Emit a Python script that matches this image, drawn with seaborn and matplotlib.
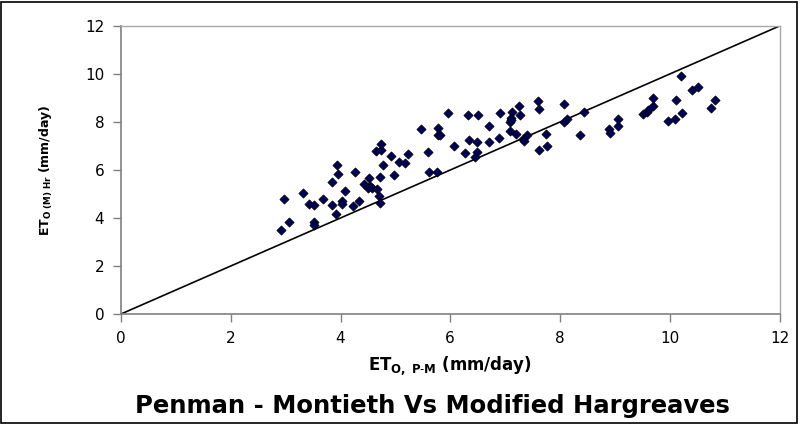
import matplotlib
matplotlib.use("Agg")
import matplotlib.pyplot as plt
import seaborn as sns
import numpy as np
import pandas as pd
from matplotlib.patches import Rectangle

# ---- data ----
et_pm = [2.92, 3.06, 2.97, 3.32, 3.43, 3.52, 3.52, 3.52, 3.68, 3.85, 3.92, 4.03, 4.03, 4.23,
         4.34, 4.09, 3.85, 3.94, 3.96, 4.27, 4.52, 4.72, 4.43, 4.54, 4.58, 4.67, 4.51, 4.71,
         4.72, 4.78, 4.65, 4.74, 4.74, 4.92, 5.07, 5.18, 5.23, 4.98, 5.60, 5.62, 5.75, 6.27,
         5.47, 5.78, 5.78, 5.82, 5.95, 6.33, 6.51, 6.91, 6.71, 6.06, 6.35, 6.49, 6.71, 6.88,
         6.49, 6.46, 7.13, 7.28, 7.26, 7.59, 7.61, 8.08, 7.10, 7.08, 7.11, 7.08, 7.20, 7.39,
         7.33, 7.35, 7.75, 7.77, 7.62, 8.08, 8.12, 8.44, 8.37, 8.90, 8.92, 9.05, 9.05, 9.52,
         9.58, 9.61, 9.69, 9.69, 10.12, 10.21, 10.40, 10.52, 10.82, 10.76, 10.23, 9.96, 10.10]
et_hr = [3.50, 3.83, 4.79, 5.04, 4.58, 4.54, 3.83, 3.71, 4.79, 4.54, 4.17, 4.71, 4.58, 4.50,
         4.71, 5.13, 5.50, 6.21, 5.83, 5.92, 5.67, 5.71, 5.42, 5.33, 5.25, 5.21, 5.25, 4.92,
         4.63, 6.21, 6.79, 6.83, 7.08, 6.58, 6.33, 6.29, 6.67, 5.79, 6.75, 5.92, 5.92, 6.71,
         7.71, 7.75, 7.46, 7.46, 8.38, 8.29, 8.29, 8.38, 7.83, 7.00, 7.25, 7.17, 7.17, 7.33,
         6.75, 6.54, 8.42, 8.29, 8.67, 8.88, 8.54, 8.75, 8.17, 8.00, 8.08, 7.63, 7.50, 7.46,
         7.29, 7.21, 7.50, 7.00, 6.83, 8.00, 8.13, 8.42, 7.46, 7.71, 7.54, 8.13, 7.83, 8.33,
         8.42, 8.50, 8.67, 9.00, 8.92, 9.92, 9.33, 9.46, 8.92, 8.58, 8.38, 8.04, 8.13]
line_x = [0, 12]
line_y = [0, 12]
ticks = [0, 2, 4, 6, 8, 10, 12]

sns.set_style("white")
plt.rcParams["font.family"] = ["DejaVu Sans"]
plt.rcParams["mathtext.fontset"] = "dejavusans"
plt.rcParams["text.color"] = "black"
plt.rcParams["axes.labelcolor"] = "black"

fig = plt.figure(figsize=(8.10, 4.24), dpi=100)
ax = fig.add_axes([121 / 810, 1 - 314 / 424, (779.5 - 121) / 810, (314 - 26) / 424])

df = pd.DataFrame({"x": et_pm, "y": et_hr})
sns.lineplot(x=line_x, y=line_y, ax=ax, color="black", linewidth=1.2)
sns.scatterplot(data=df, x="x", y="y", ax=ax, marker="D", color="#000058",
                edgecolor="black", linewidth=0.5, s=22, zorder=3)

ax.set_xlim(0, 12)
ax.set_ylim(0, 12)
ax.set_xticks(ticks)
ax.set_yticks(ticks)
ax.set_xticklabels([str(t) for t in ticks], fontsize=11)
ax.set_yticklabels([str(t) for t in ticks], fontsize=11)
ax.tick_params(axis="both", direction="out", length=6, width=1, color="#808080",
               labelcolor="black", pad=6)
ax.tick_params(axis="both", which="both", bottom=True, left=True)
for side in ["left", "bottom"]:
    ax.spines[side].set_color("#808080")
    ax.spines[side].set_linewidth(1.2)
for side in ["top", "right"]:
    ax.spines[side].set_color("#a8a8a8")
    ax.spines[side].set_linewidth(1.0)

ax.set_xlabel(r"$\mathbf{ET_{O,\ P\text{-}M}\ (mm/day)}$", fontsize=12, labelpad=6,
              color="black")
ax.set_ylabel(r"$\mathbf{ET_{O\ (M)\ Hr}\ (mm/day)}$", fontsize=9, labelpad=22,
              color="black")

fig.text(432 / 810, 1 - 406 / 424, "Penman - Montieth Vs Modified Hargreaves",
         fontsize=17.5, fontweight="bold", ha="center", va="center", color="black")

fig.patches.append(Rectangle((1 / 810, 1 / 424), 796 / 810, 421 / 424,
                             transform=fig.transFigure, fill=False,
                             edgecolor="black", linewidth=1.2))

fig.savefig("out.png", dpi=100)
